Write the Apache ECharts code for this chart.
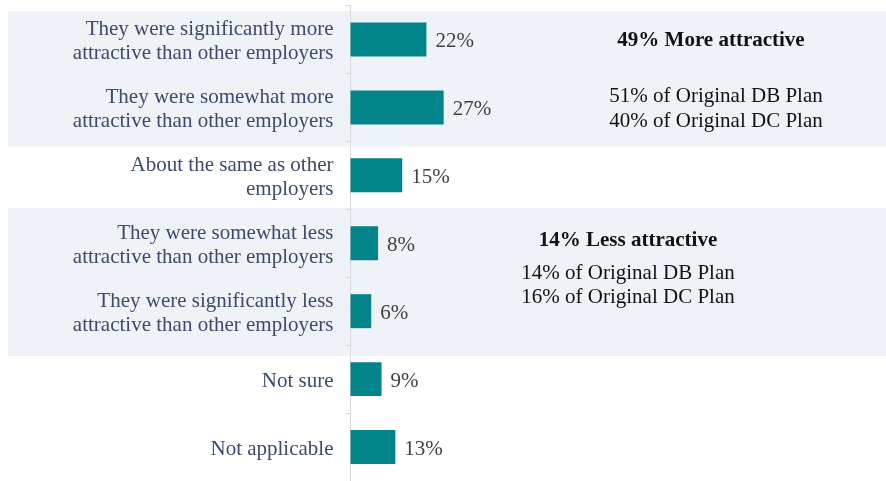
<!DOCTYPE html>
<html>
<head>
<meta charset="utf-8">
<script src="https://cdn.jsdelivr.net/npm/echarts@6/dist/echarts.min.js"></script>
<style>
  html, body { margin: 0; padding: 0; background: #fff; }
  #chart { width: 886px; height: 481px; }
</style>
</head>
<body>
<div id="chart"></div>
<script>
// Survey responses: how attractive the benefits made the employer
const categories = [
  'They were significantly more\nattractive than other employers',
  'They were somewhat more\nattractive than other employers',
  'About the same as other\nemployers',
  'They were somewhat less\nattractive than other employers',
  'They were significantly less\nattractive than other employers',
  'Not sure',
  'Not applicable'
];
const shares = [22, 27, 15, 8, 6, 9, 13];

// Summary notes shown beside the grouped rows
const moreNote = ['49% More attractive', '51% of Original DB Plan', '40% of Original DC Plan'];
const lessNote = ['14% Less attractive', '14% of Original DB Plan', '16% of Original DC Plan'];

const SERIF = '"Liberation Serif", "Times New Roman", serif';
const chart = echarts.init(document.getElementById('chart'));

function noteText(text, x, y, bold) {
  return {
    type: 'text', x: x, y: y, z: 10,
    style: {
      text: text, fill: '#111', font: (bold ? 'bold ' : '') + '21px ' + SERIF,
      textAlign: 'center', textVerticalAlign: 'middle'
    }
  };
}

chart.setOption({
  animation: false,
  backgroundColor: '#fff',
  grid: { left: 350.5, top: 5.5, width: 345, height: 479.5, containLabel: false },
  xAxis: {
    type: 'value', min: 0, max: 100,
    show: false, splitLine: { show: false }
  },
  yAxis: {
    type: 'category', inverse: true, data: categories,
    axisLine: { show: true, lineStyle: { color: '#d9d9d9', width: 1 } },
    axisTick: { show: true, length: 5, lineStyle: { color: '#d9d9d9' } },
    axisLabel: {
      margin: 17, fontFamily: SERIF, fontSize: 21, lineHeight: 24,
      color: '#3d4a6d', align: 'right', verticalAlign: 'middle',
      formatter: function (v) {
        return v.split('\n').map(function (s) { return '{t|' + s + '}'; }).join('\n');
      },
      rich: {
        t: { fontFamily: SERIF, fontSize: 21, lineHeight: 24, color: '#3d4a6d', padding: [5, 0, 0, 0] }
      }
    }
  },
  graphic: [
    // shaded row groups
    { type: 'rect', z: -10, shape: { x: 8, y: 11, width: 878, height: 135.5 }, style: { fill: '#eff2f6' } },
    { type: 'rect', z: -10, shape: { x: 8, y: 208, width: 878, height: 148 }, style: { fill: '#eff2f6' } },
    noteText(moreNote[0], 711, 41, true),
    noteText(moreNote[1], 716, 96, false),
    noteText(moreNote[2], 716, 121, false),
    noteText(lessNote[0], 628, 241, true),
    noteText(lessNote[1], 628, 273, false),
    noteText(lessNote[2], 628, 297, false)
  ],
  series: [{
    type: 'bar',
    data: shares,
    barWidth: '50%',
    itemStyle: { color: '#03838a' },
    label: {
      show: true, position: 'right', distance: 9, offset: [0, 2],
      formatter: '{c}%', fontFamily: SERIF, fontSize: 21, color: '#404040'
    }
  }]
});
</script>
</body>
</html>
